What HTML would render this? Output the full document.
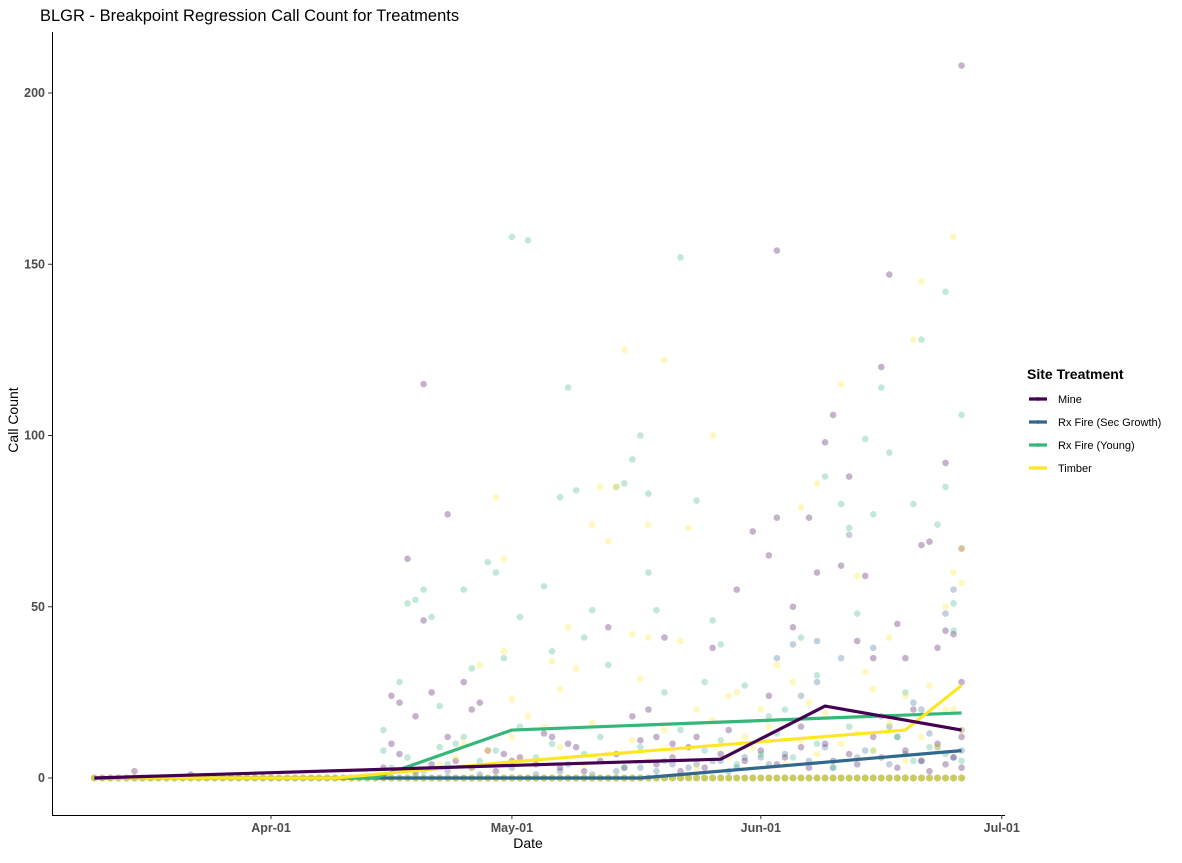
<!DOCTYPE html>
<html><head><meta charset="utf-8">
<style>
body{margin:0;background:#fff;font-family:"Liberation Sans",Arial,sans-serif;}
svg text{font-family:"Liberation Sans",Arial,sans-serif;}
</style></head>
<body>
<svg id="chart" width="1182" height="858" viewBox="0 0 1182 858">
<text x="40" y="21" font-size="16.5" fill="#000">BLGR - Breakpoint Regression Call Count for Treatments</text>
<g id="points"></g>
<g id="lines"></g>
<g id="axes"></g>
<text x="528" y="848" font-size="14" text-anchor="middle">Date</text>
<text transform="translate(18,420) rotate(-90)" font-size="14" text-anchor="middle">Call Count</text>
<g id="legend">
<text x="1027" y="379" font-size="14" font-weight="bold">Site Treatment</text>
</g>
</svg>
<script>
// day index: 0 = Mar-10, 22 = Apr-01
const seriesNames = ["Mine","Rx Fire (Sec Growth)","Rx Fire (Young)","Timber"];
const seriesColors = ["#440154","#31688E","#35B779","#FDE725"];
const recordingDays = [0,1,2,3,4,5,6,7,8,9,10,11,12,13,14,15,16,17,18,19,20,21,22,23,24,25,26,27,28,29,30,31,32,33,34,35,36,37,38,39,40,41,42,43,44,45,46,47,48,49,50,51,52,53,54,55,56,57,58,59,60,61,62,63,64,65,66,67,68,69,70,71,72,73,74,75,76,77,78,79,80,81,82,83,84,85,86,87,88,89,90,91,92,93,94,95,96,97,98,99,100,101,102,103,104,105,106,107,108];
const mineDays = [5,12,37,38,39,40,41,41,42,44,46,47,48,51,52,56,57,59,64,67,69,70,71,72,75,77,80,82,84,84,85,85,87,87,88,89,90,91,92,93,94,95,96,97,98,99,100,101,102,103,104,105,106,106,107,108,108,108];
const mineVals = [2,1,24,22,64,18,115,46,25,77,28,20,22,7,5,13,12,10,44,18,20,12,41,10,12,38,55,72,24,65,154,76,50,44,15,76,60,98,106,62,88,40,59,35,120,147,45,35,20,68,69,38,92,43,42,67,12,28];
const mineHigh = [208];
const mineHighDays = [108];
const mineLowDays = [36,37,38,40,42,44,45,47,49,50,53,55,58,60,61,63,65,66,68,70,72,73,74,76,78,79,81,83,85,86,88,89,91,92,94,95,97,98,100,101,103,104,105,106,107,108];
const mineLowVals = [3,10,7,2,4,12,5,3,8,2,6,4,3,9,2,5,7,3,11,4,6,2,9,3,7,14,5,8,4,6,9,3,10,5,7,4,12,6,3,8,5,2,10,4,6,3];
const secDays = [75,78,80,83,85,87,88,90,90,93,94,97,98,99,100,102,103,104,106,107,108,108];
const secVals = [4,5,3,6,35,39,24,40,28,35,71,38,18,15,12,22,20,13,48,55,14,8];
const secLowDays = [40,44,48,52,55,58,62,65,68,70,72,74,77,79,81,84,86,89,91,92,95,96,99,101,103,105,107];
const secLowVals = [1,2,1,3,1,2,1,2,3,2,4,3,5,2,6,4,7,5,9,3,6,8,4,7,5,9,6];
const youngDays = [36,36,38,39,40,41,42,43,45,46,47,49,50,51,52,53,54,56,57,58,59,60,61,62,64,65,66,67,68,69,69,70,71,73,75,76,77,78,81,84,86,88,90,91,93,94,95,96,97,98,99,101,102,103,105,106,106,107,107,108,108];
const youngVals = [8,14,28,51,52,55,47,21,10,55,32,63,60,35,158,47,157,56,37,82,114,84,41,49,33,85,86,93,100,60,83,49,25,152,81,28,46,39,27,18,20,41,30,88,80,73,48,99,77,114,95,25,80,128,74,85,142,51,43,106,5];
const youngLowDays = [37,39,41,43,44,46,48,50,53,55,57,59,61,63,66,68,71,73,76,78,80,83,85,87,90,92,94,97,100,102,104,106];
const youngLowVals = [3,6,2,9,4,12,5,8,15,6,10,4,7,12,3,9,5,14,8,11,4,7,13,6,10,3,15,8,12,5,9,7];
const timberDays = [46,48,50,51,51,52,54,57,58,59,60,62,63,64,65,66,67,68,69,69,71,73,74,75,77,79,80,83,85,87,88,89,90,93,95,96,97,99,101,102,103,104,106,107,107,107,108,108];
const timberVals = [10,33,82,64,37,23,18,34,26,44,32,74,85,69,85,125,42,29,74,41,122,40,73,20,100,24,25,20,33,28,79,22,86,115,59,31,26,41,24,128,145,27,50,60,20,158,67,57];
const timberLowDays = [40,43,45,47,49,52,55,56,58,61,62,64,67,69,71,72,75,77,79,81,82,84,86,88,90,91,93,95,97,99,101,103,105,106,108];
const timberLowVals = [2,4,6,3,8,12,5,15,9,4,16,7,11,5,14,8,3,17,6,12,9,15,4,11,7,19,10,13,8,16,5,12,9,20,14];
// breakpoint regression fits
const mineFitDays = [0,78,91,108];
const mineFitVals = [0,5.5,21,14];
const secFitDays = [0,68,108];
const secFitVals = [0,0,8];
const youngFitDays = [0,35,52,108];
const youngFitVals = [0,0,14,19];
const timberFitDays = [0,30,52,101,108];
const timberFitVals = [0,0,4.7,14,27];
const yTicks = [0,50,100,150,200];
const xTickDays = [22,52,83,113];
const xTickLabels = ["Apr-01","May-01","Jun-01","Jul-01"];

const NS="http://www.w3.org/2000/svg";
const xS = d => 271 + (d-22)*8.03;
const yS = v => 778 - v*3.425;
function mk(tag, attrs, parent){const e=document.createElementNS(NS,tag);for(const k in attrs)e.setAttribute(k,attrs[k]);parent.appendChild(e);return e;}

const pts=document.getElementById('points');
const scatter=[
  [mineDays.concat(mineHighDays,mineLowDays),mineVals.concat(mineHigh,mineLowVals)],
  [secDays.concat(secLowDays),secVals.concat(secLowVals)],
  [youngDays.concat(youngLowDays),youngVals.concat(youngLowVals)],
  [timberDays.concat(timberLowDays),timberVals.concat(timberLowVals)]];
scatter.forEach((s,i)=>{
  const g=mk('g',{},pts);
  
  
  s[0].forEach((d,j)=>{
    const c=mk('circle',{cx:xS(d),cy:yS(s[1][j]),r:3.3,fill:seriesColors[i],'fill-opacity':0.3},g);
    
    
  });
});
scatter.forEach((s,i)=>{
  const g=mk('g',{},pts);
  
  
  recordingDays.forEach(d=>{
    const c=mk('circle',{cx:xS(d),cy:yS(0),r:3.4,fill:seriesColors[i],'fill-opacity':i==3?0.6:0.3},g);
    
    
  });
});

const lns=document.getElementById('lines');
const fits=[[mineFitDays,mineFitVals],[secFitDays,secFitVals],[youngFitDays,youngFitVals],[timberFitDays,timberFitVals]];
[1,2,3,0].forEach(i=>{
  const f=fits[i];
  const p=mk('polyline',{points:f[0].map((d,j)=>xS(d)+','+yS(f[1][j])).join(' '),fill:'none',stroke:seriesColors[i],'stroke-width':3.2,'stroke-linejoin':'round'},lns);
  
  
});

const ax=document.getElementById('axes');
const yl=mk('line',{x1:52.5,y1:32,x2:52.5,y2:815,stroke:'#000','stroke-width':1},ax);


const xl=mk('line',{x1:52,y1:815.5,x2:1005,y2:815.5,stroke:'#000','stroke-width':1},ax);


yTicks.forEach(v=>{
  mk('line',{x1:48,y1:yS(v),x2:52,y2:yS(v),stroke:'#333'},ax);
  const t=mk('text',{x:45,y:yS(v)+4,'font-size':12.5,'font-weight':'bold','text-anchor':'end',fill:'#4d4d4d'},ax);
  t.textContent=v;
  
  
});
xTickDays.forEach((d,i)=>{
  mk('line',{x1:xS(d),y1:815,x2:xS(d),y2:819,stroke:'#333'},ax);
  const t=mk('text',{x:xS(d),y:832,'font-size':12.5,'font-weight':'bold','text-anchor':'middle',fill:'#4d4d4d'},ax);
  t.textContent=xTickLabels[i];
  
  
});

const lg=document.getElementById('legend');
seriesNames.forEach((n,i)=>{
  const y=399+i*23;
  const g=mk('g',{},lg);
  
  
  mk('line',{x1:1029,y1:y,x2:1047,y2:y,stroke:seriesColors[i],'stroke-width':3.2},g);
  mk('circle',{cx:1038,cy:y,r:2,fill:seriesColors[i],'fill-opacity':0.5},g);
  const t=mk('text',{x:1058,y:y+4,'font-size':11},g);
  t.textContent=n;
});
</script>
</body></html>
